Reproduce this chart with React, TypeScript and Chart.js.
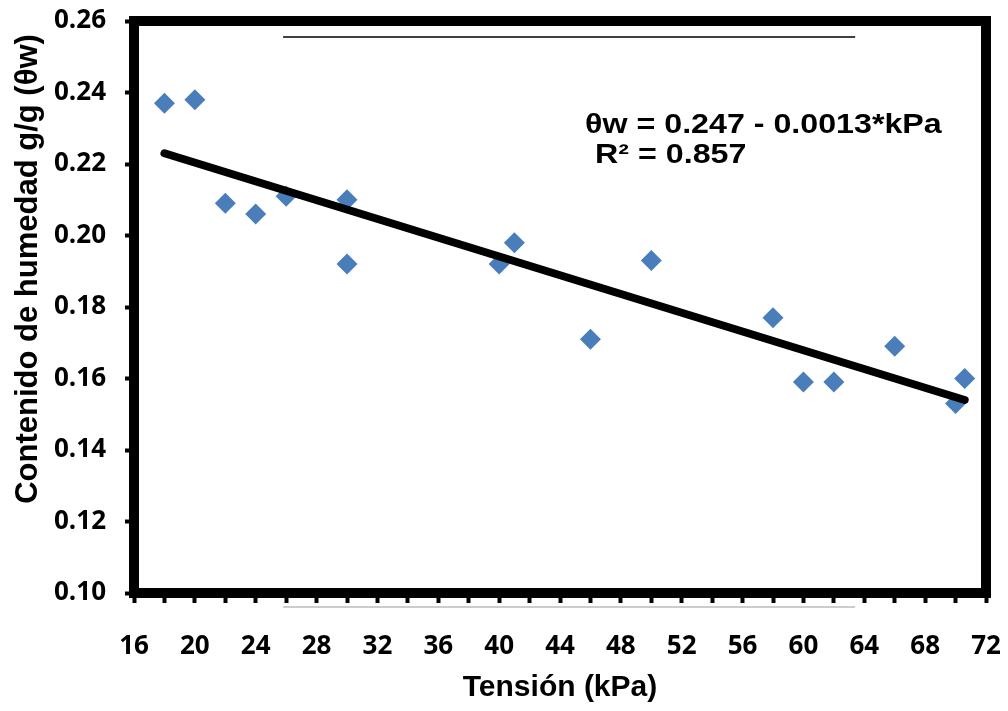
import { useEffect, useRef } from 'react';
import { Chart, registerables } from 'chart.js';

Chart.register(...registerables);

// ---- data ----
const tensionKPa = [18, 20, 22, 24, 26, 30, 30, 40, 41, 46, 50, 58, 60, 62, 66, 70, 70.6];
const humedad = [0.237, 0.238, 0.209, 0.206, 0.211, 0.210, 0.192, 0.192, 0.198, 0.171, 0.193, 0.177, 0.159, 0.159, 0.169, 0.153, 0.160];

const trendX = [18, 70.6];
const trendY = [0.223, 0.154];

const xMin = 16;
const xMax = 72;
const xStep = 2;
const xLabelEvery = 4;
const yMin = 0.10;
const yMax = 0.26;
const yStep = 0.02;

const equationText = 'θw = 0.247 - 0.0013*kPa';
const r2Text = 'R² = 0.857';
const equationAnchor = [45.65, 0.2307];
const xTitle = 'Tensión (kPa)';
const yTitle = 'Contenido de humedad g/g (θw)';
const artifactSpan = [25.8, 63.4];

const framePlugin = {
  id: 'frameAndText',
  beforeDatasetsDraw(chart: any) {
    const { ctx, chartArea } = chart;
    const { left, top, right, bottom } = chartArea;
    const xs = chart.scales.x;
    ctx.save();
    const a0 = xs.getPixelForValue(artifactSpan[0]);
    const a1 = xs.getPixelForValue(artifactSpan[1]);
    ctx.strokeStyle = '#000';
    ctx.lineWidth = 1.5;
    ctx.beginPath();
    ctx.moveTo(a0, top + 16);
    ctx.lineTo(a1, top + 16);
    ctx.stroke();
    ctx.strokeStyle = '#9a9a9a';
    ctx.lineWidth = 1.2;
    ctx.beginPath();
    ctx.moveTo(a0, bottom + 14);
    ctx.lineTo(a1, bottom + 14);
    ctx.stroke();
    ctx.strokeStyle = '#000';
    ctx.lineWidth = 10;
    ctx.strokeRect(left, top, right - left, bottom - top);
    ctx.restore();
  },
  afterDraw(chart: any) {
    const { ctx, chartArea } = chart;
    const xs = chart.scales.x;
    const ys = chart.scales.y;
    ctx.save();
    ctx.fillStyle = '#000';
    ctx.font = 'bold 28px "Liberation Sans", Arial, sans-serif';
    ctx.textBaseline = 'middle';
    ctx.textAlign = 'left';
    const ex = xs.getPixelForValue(equationAnchor[0]);
    const ey = ys.getPixelForValue(equationAnchor[1]);
    ctx.save();
    ctx.translate(ex, ey);
    ctx.scale(1.15, 1);
    ctx.fillText(equationText, 0, 0);
    ctx.restore();
    ctx.save();
    ctx.translate(ex + 10, ey + 30);
    ctx.scale(1.15, 1);
    ctx.fillText(r2Text, 0, 0);
    ctx.restore();
    ctx.save();
    ctx.font = 'bold 31px "Liberation Sans", Arial, sans-serif';
    ctx.textAlign = 'center';
    ctx.textBaseline = 'middle';
    ctx.translate(28, chartArea.top + 248);
    ctx.rotate(-Math.PI / 2);
    ctx.fillText(yTitle, 0, 0);
    ctx.restore();
    ctx.restore();
  },
};

const zeroPad = (s: any) => {
  s.paddingTop = 0;
  s.paddingBottom = 0;
  s.paddingLeft = 0;
  s.paddingRight = 0;
};

export default function App() {
  const canvasRef = useRef<HTMLCanvasElement | null>(null);

  useEffect(() => {
    const canvas = canvasRef.current;
    if (!canvas) return;
    const scatterData = tensionKPa.map((x, i) => ({ x, y: humedad[i] }));
    const trendData = trendX.map((x, i) => ({ x, y: trendY[i] }));
    const tickFont = { family: '"Open Sans", sans-serif', size: 26, weight: 'bold' as const };

    const chart = new Chart(canvas, {
      type: 'scatter',
      data: {
        datasets: [
          {
            type: 'line',
            label: 'Tendencia',
            data: trendData,
            borderColor: '#000',
            borderWidth: 8,
            borderCapStyle: 'round',
            pointRadius: 0,
            showLine: true,
            fill: false,
            order: 0,
          } as any,
          {
            label: 'Datos',
            data: scatterData,
            pointStyle: 'rectRot',
            pointRadius: 10.5,
            pointBackgroundColor: '#4a7ebb',
            pointBorderColor: '#4a7ebb',
            pointBorderWidth: 0,
            order: 1,
          },
        ],
      },
      options: {
        responsive: false,
        animation: false,
        layout: { padding: { left: 0, right: 22, top: 21, bottom: 5 } },
        plugins: {
          legend: { display: false },
          tooltip: { enabled: false },
        },
        scales: {
          x: {
            type: 'linear',
            min: xMin,
            max: xMax,
            border: { display: false },
            grid: {
              drawOnChartArea: false,
              drawTicks: true,
              tickLength: 10,
              tickWidth: 4,
              tickColor: '#000',
            },
            ticks: {
              stepSize: xStep,
              autoSkip: false,
              maxRotation: 0,
              padding: 28,
              color: '#000',
              font: tickFont,
              callback: (v: any) => (Number(v) % xLabelEvery === 0 ? String(v) : ''),
            },
            title: {
              display: true,
              text: xTitle,
              color: '#000',
              font: { family: '"Liberation Sans", Arial, sans-serif', size: 30, weight: 'bold' },
              padding: { top: 0, bottom: 0 },
            },
            afterFit: (s: any) => {
              s.height = 113;
              zeroPad(s);
            },
          },
          y: {
            type: 'linear',
            min: yMin,
            max: yMax,
            border: { display: false },
            grid: {
              drawOnChartArea: false,
              drawTicks: true,
              tickLength: 9,
              tickWidth: 4,
              tickColor: '#000',
            },
            ticks: {
              stepSize: yStep,
              padding: 19,
              color: '#000',
              font: tickFont,
              callback: (v: any) => Number(v).toFixed(2),
            },
            afterFit: (s: any) => {
              s.width = 134;
              zeroPad(s);
            },
          },
        },
      },
      plugins: [framePlugin],
    });
    return () => chart.destroy();
  }, []);

  return (
    <div style={{ position: 'absolute', left: 0, top: 0, width: 1008, height: 711, background: '#fff' }}>
      <canvas ref={canvasRef} width={1008} height={711} style={{ display: 'block' }} />
    </div>
  );
}
